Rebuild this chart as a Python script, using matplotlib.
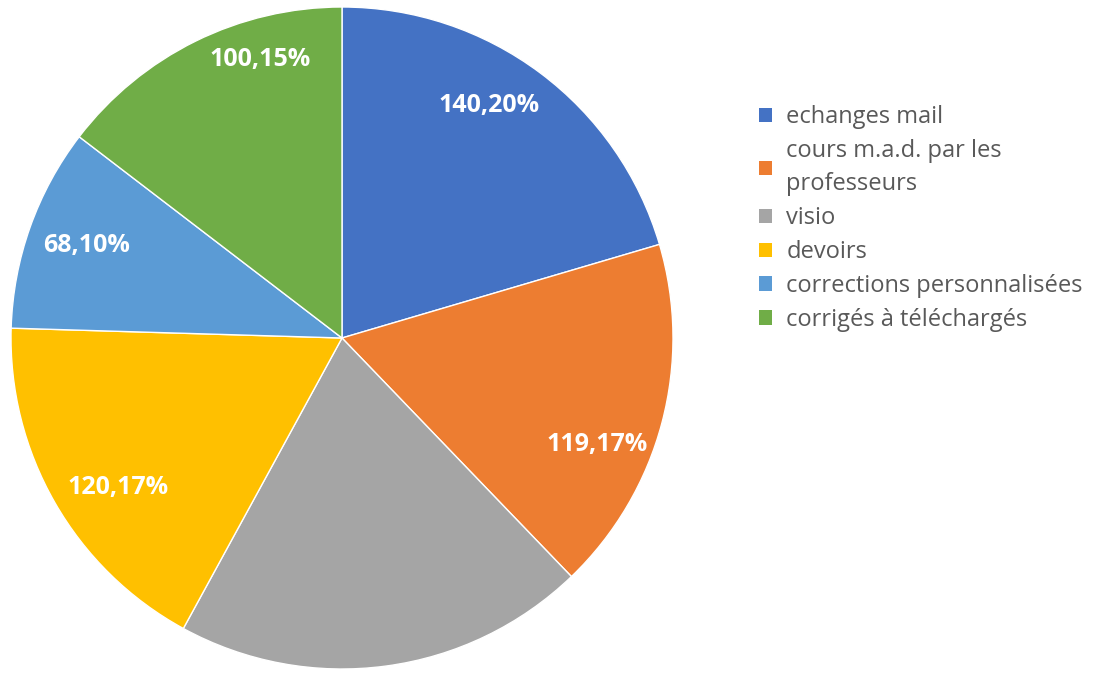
import matplotlib.pyplot as plt
from matplotlib.patches import Patch
import numpy as np

plt.rcParams['font.family'] = ['Open Sans', 'DejaVu Sans']

# data
categories = ['echanges mail', 'cours m.a.d. par les\nprofesseurs', 'visio',
              'devoirs', 'corrections personnalisées', 'corrigés à téléchargés']
values = [140, 119, 138, 120, 68, 100]
percents = [20, 17, None, 17, 10, 15]   # visio has no label on the chart
colors = ['#4472C4', '#ED7D31', '#A5A5A5', '#FFC000', '#5B9BD5', '#70AD47']

# label placement tweaks (Excel "best fit"): clockwise angle nudge in deg, radial distance
label_nudge = [-4.5, 7.8, 0, -3.9, 0.4, 9.8]
label_dist = [0.83, 0.834, 0.82, 0.813, 0.82, 0.876]

fig = plt.figure(figsize=(10.99, 6.73), dpi=100)
W, H = 1099, 673
cx, cy, r = 342, 338, 331
ax = fig.add_axes([(cx - r) / W, (H - cy - r) / H, 2 * r / W, 2 * r / H])

wedges, _ = ax.pie(values, colors=colors, startangle=90, counterclock=False,
                   radius=1, wedgeprops=dict(edgecolor='white', linewidth=1))
ax.set_xlim(-1, 1)
ax.set_ylim(-1, 1)
ax.set_aspect('equal')
ax.axis('off')

for w, v, p, dn, d in zip(wedges, values, percents, label_nudge, label_dist):
    if p is None:
        continue
    ang = np.deg2rad((w.theta1 + w.theta2) / 2 - dn)
    ax.text(d * np.cos(ang), d * np.sin(ang), f'{v},{p}%', color='white',
            fontsize=18, fontweight='bold', ha='center', va='center')

handles = [Patch(facecolor=c, edgecolor='none') for c in colors]
leg = fig.legend(handles, categories, loc='upper left', bbox_to_anchor=(738 / W, 1 - 84 / H),
                 frameon=False, fontsize=17, labelcolor='#595959',
                 handlelength=0.55, handleheight=0.55, handletextpad=0.6,
                 labelspacing=0.42)
for t in leg.get_texts():
    t.set_linespacing(1.5)

fig.savefig('out.png', dpi=100)
